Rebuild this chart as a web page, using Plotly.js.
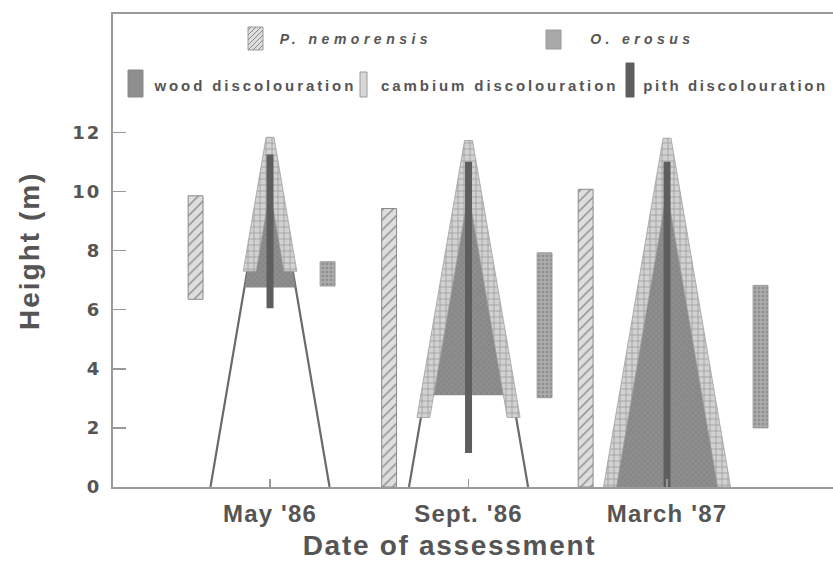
<!DOCTYPE html>
<html>
<head>
<meta charset="utf-8">
<script src="https://cdn.plot.ly/plotly-3.0.1.min.js"></script>
<style>
html,body{margin:0;padding:0;background:#fff;}
#chart{width:833px;height:561px;}
.xtick text{letter-spacing:1.2px;}
.ytick text{letter-spacing:2px;}
.annotation[data-index="0"] text{letter-spacing:1.7px;}
.annotation[data-index="1"] text{letter-spacing:2px;}
.annotation[data-index="2"] text{letter-spacing:4.5px;}
.annotation[data-index="3"] text{letter-spacing:4.4px;}
.annotation[data-index="4"] text{letter-spacing:2.9px;}
.annotation[data-index="5"] text{letter-spacing:2.9px;}
.annotation[data-index="6"] text{letter-spacing:2.6px;}
</style>
</head>
<body>
<div id="chart"></div>
<script>
// ---------- data ----------
const dates      = ["May '86", "Sept. '86", "March '87"];
const datePos    = [1, 2, 3];
const apexHeight = [11.83, 11.72, 11.8];   // tree height (m)
const cambiumLow = [7.3, 2.35, 0];         // lower limit of cambium discolouration
const woodLow    = [6.75, 3.1, 0];         // lower limit of wood discolouration
const pithTop    = [11.25, 11.0, 11.0];
const pithLow    = [6.05, 1.15, 0];
// P. nemorensis range per assessment
const pnX   = [0.625, 1.60, 2.59];
const pnLow = [6.35, 0, 0];
const pnTop = [9.85, 9.42, 10.07];
// O. erosus range per assessment
const oeX   = [1.29, 2.383, 3.471];
const oeLow = [6.8, 3.02, 2.0];
const oeTop = [7.62, 7.92, 6.82];

// ---------- geometry / style constants ----------
const BASE_HALF = 0.30;   // half width of tree cone at ground (x units)
const BAND_OUT = 0.02, BAND_IN = 0.045;
const BAR_W = 0.075;
const FONT = "Liberation Sans, Arial, Helvetica, sans-serif";
const TXT = "#555555";

const traces = [];

// tree outlines
datePos.forEach((c, i) => {
  const H = apexHeight[i];
  traces.push({type:'scatter', mode:'lines', x:[c-BASE_HALF, c, c+BASE_HALF], y:[0, H, 0],
    line:{color:'#6a6a6a', width:2.2}, showlegend:false, hoverinfo:'skip'});
});
// wood discolouration
datePos.forEach((c, i) => {
  const H = apexHeight[i], w = woodLow[i];
  const hw = BASE_HALF*(H-w)/H;
  traces.push({type:'scatter', mode:'lines', x:[c-hw, c, c+hw, c-hw], y:[w, H, w, w],
    fill:'toself', fillcolor:'#8e8e8e', line:{width:0, color:'rgba(0,0,0,0)'},
    fillpattern:{shape:'x', bgcolor:'#8e8e8e', fgcolor:'#7c7c7c', size:4, solidity:0.25},
    showlegend:false, hoverinfo:'skip'});
});
// cambium discolouration band
datePos.forEach((c, i) => {
  const H = apexHeight[i], cl = cambiumLow[i];
  const hw = BASE_HALF*(H-cl)/H;
  const hIn = H*(1 - BAND_IN/BASE_HALF);
  const xs = [c-hw-BAND_OUT, c-BAND_OUT, c+BAND_OUT, c+hw+BAND_OUT, c+hw-BAND_IN, c, c-hw+BAND_IN, c-hw-BAND_OUT];
  const ys = [cl, H, H, cl, cl, hIn, cl, cl];
  traces.push({type:'scatter', mode:'lines', x:xs, y:ys, fill:'toself', fillcolor:'#cfcfcf',
    line:{width:0.8, color:'#a0a0a0'},
    fillpattern:{shape:'+', bgcolor:'#d2d2d2', fgcolor:'#999999', size:6, solidity:0.24},
    showlegend:false, hoverinfo:'skip'});
});
// pith discolouration
datePos.forEach((c, i) => {
  traces.push({type:'scatter', mode:'lines', x:[c, c], y:[pithLow[i], pithTop[i]],
    line:{color:'#5e5e5e', width:7}, showlegend:false, hoverinfo:'skip'});
});
// species bars
traces.push({type:'bar', x:pnX, base:pnLow, y:pnTop.map((t,i)=>t-pnLow[i]), width:BAR_W,
  marker:{color:'#dcdcdc', line:{color:'#8a8a8a', width:1},
    pattern:{shape:'/', bgcolor:'#dedede', fgcolor:'#8c8c8c', size:7, solidity:0.2}},
  showlegend:false, hoverinfo:'skip'});
traces.push({type:'bar', x:oeX, base:oeLow, y:oeTop.map((t,i)=>t-oeLow[i]), width:BAR_W,
  marker:{color:'#a9a9a9', line:{color:'#9a9a9a', width:1},
    pattern:{shape:'.', bgcolor:'#acacac', fgcolor:'#8e8e8e', size:4, solidity:0.35}},
  showlegend:false, hoverinfo:'skip'});

// ---------- layout helpers (pixel -> paper) ----------
const PL=113, PR=833, PT=14, PB=487;
const px = x => (x-PL)/(PR-PL);
const py = y => (PB-y)/(PB-PT);

function rect(x0,y0,x1,y1,fill,line){
  return {type:'rect', xref:'paper', yref:'paper', x0:px(x0), x1:px(x1), y0:py(y1), y1:py(y0),
    fillcolor:fill, line:{color:line||fill, width:1}, layer:'above'};
}
function hatchPath(x0,y0,x1,y1,step){
  let d='';
  for(let t=-(x1-x0); t<=(y1-y0); t+=step){
    const xs=Math.max(x0, x0-t), xe=Math.min(x1, x0+(y1-y0)-t);
    if(xs<xe){
      const ya=y1-t-(xs-x0), yb=y1-t-(xe-x0);
      d+=`M${px(xs)},${py(ya)}L${px(xe)},${py(yb)}`;
    }
  }
  return {type:'path', xref:'paper', yref:'paper', path:d, line:{color:'#8a8a8a', width:1}, layer:'above'};
}

const shapes = [
  rect(248,27,263,50,'#dedede','#9a9a9a'),
  hatchPath(248,27,263,50,5),
  rect(546,30,561,49,'#a9a9a9','#9a9a9a'),
  rect(128,70,143,97,'#8e8e8e','#888888'),
  rect(360,72,367,97,'#d8d8d8','#9a9a9a'),
  rect(626,63,634,97,'#5e5e5e','#5e5e5e')
];

function leg(text, xc, y, size, italic){
  return {xref:'paper', yref:'paper', x:px(xc), y:py(y), xanchor:'center', yanchor:'middle',
    text:text, showarrow:false,
    font:{family:FONT, size:size, color:TXT, weight:'bold', style: italic?'italic':'normal'}};
}

const annotations = [
  {xref:'paper', yref:'paper', x:px(449), y:py(545), xanchor:'center', yanchor:'middle',
   text:'Date of assessment', showarrow:false, font:{family:FONT, size:28, color:TXT, weight:'bold'}},
  {xref:'paper', yref:'paper', x:px(29), y:py(251), xanchor:'center', yanchor:'middle', textangle:-90,
   text:'Height (m)', showarrow:false, font:{family:FONT, size:28, color:TXT, weight:'bold'}},
  leg('P. nemorensis', 356, 39, 14, true),
  leg('O. erosus', 642, 39, 14, true),
  leg('wood discolouration', 254.5, 85, 15, false),
  leg('cambium discolouration', 499, 85, 15, false),
  leg('pith discolouration', 735, 85, 15, false)
];

const layout = {
  width:833, height:561,
  margin:{l:PL, r:833-PR, t:PT, b:561-PB, pad:0},
  paper_bgcolor:'#ffffff', plot_bgcolor:'#ffffff',
  barmode:'overlay', showlegend:false, hovermode:false,
  xaxis:{range:[0.209, 3.836], tickvals:datePos, ticktext:dates, ticks:'inside', ticklen:8,
    tickcolor:'#999999', tickwidth:1.5, showline:true, linecolor:'#9a9a9a', linewidth:2, mirror:true,
    showgrid:false, zeroline:false, ticklabelstandoff:4,
    tickfont:{family:FONT, size:24, color:TXT, weight:'bold'}},
  yaxis:{range:[0,16], tickvals:[0,2,4,6,8,10,12], ticks:'inside', ticklen:13, tickcolor:'#999999',
    tickwidth:1.5, showline:true, linecolor:'#9a9a9a', linewidth:2, showgrid:false, zeroline:false,
    ticklabelstandoff:6, tickfont:{family:"DejaVu Sans, Liberation Sans, sans-serif", size:18, color:TXT, weight:'bold'}},
  shapes:shapes, annotations:annotations
};

Plotly.newPlot('chart', traces, layout, {staticPlot:true, displayModeBar:false});
</script>
</body>
</html>
